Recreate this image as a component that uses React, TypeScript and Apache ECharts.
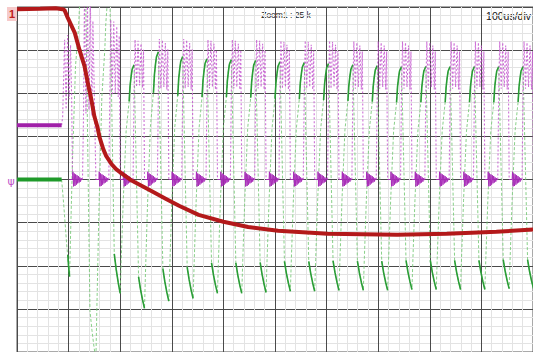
import React, { useEffect, useRef } from "react";
import * as echarts from "echarts";

// Horizontal axis: time in µs (100 µs/div, 10 divisions). Vertical: screen divisions (8).
const xMin = 0;
const xMax = 1000;
const xStep = 100;
const yMin = -4;
const yMax = 4;
const yStep = 1;

const labelZoom = "Zoom1 : 25 k";
const labelTimebase = "100us/div";

// Channel 1 (red)
const redTime = [0, 45, 75, 88, 92, 98, 112, 121, 131, 137, 144, 150, 156, 160, 167, 173, 183, 192, 204, 223, 256, 289, 314, 352, 400, 448, 506, 602, 737, 833, 929, 1000];
const redVal = [3.95, 3.96, 3.97, 3.95, 3.93, 3.76, 3.4, 3.01, 2.62, 2.25, 1.86, 1.46, 1.21, 0.98, 0.71, 0.54, 0.36, 0.24, 0.13, -0.03, -0.24, -0.45, -0.61, -0.82, -0.98, -1.1, -1.19, -1.26, -1.28, -1.26, -1.21, -1.16];

// Pre-trigger flat levels
const greenPreTime = [0, 86.5];
const greenPreVal = [0, 0];
const purplePreTime = [0, 86.5];
const purplePreVal = [1.26, 1.26];

// Green drop into the first cycle
const greenLeadTime = [86.5, 90.4, 96.2, 100];
const greenLeadVal = [0, -0.56, -1.49, -2.02];
const greenFirstTipTime = [98.5, 100, 101.9];
const greenFirstTipVal = [-1.75, -2.02, -2.25];

// Purple first ringing before the first cycle
const purpleLeadTime = [86.5, 88.5, 92.3, 95.2, 98.1, 101, 103.8, 105.8, 107.7];
const purpleLeadVal = [1.26, 1.46, 3.24, 1.63, 3.35, 1.86, 3.12, 1.97, 0];

// Switching cycles: time of each green cusp, its depth and the following crest
const cuspTime = [101.9, 152.9, 200, 247.1, 294.2, 341.3, 388.5, 435.6, 482.7, 529.8, 576.9, 624, 671.2, 718.3, 765.4, 812.5, 859.6, 906.7, 953.8, 1001];
const cuspVal = [-2.25, -4.18, -2.64, -2.99, -2.82, -2.76, -2.64, -2.64, -2.62, -2.59, -2.59, -2.57, -2.57, -2.57, -2.55, -2.55, -2.55, -2.55, -2.53, -2.53];
const peakVal = [4.62, 4.39, 2.66, 2.96, 2.85, 2.8, 2.78, 2.76, 2.73, 2.71, 2.69, 2.66, 2.64, 2.62, 2.62, 2.62, 2.62, 2.62, 2.62, 2.62];
const crestShown = [0, 0, 1, 1, 1, 1, 1, 1, 1, 1, 1, 1, 1, 1, 1, 1, 1, 1, 1, 1];
const tailShown = [0, 1, 1, 1, 1, 1, 1, 1, 1, 1, 1, 1, 1, 1, 1, 1, 1, 1, 1, 1];
const ringHigh = [4.25, 3.7, 3.24, 3.26, 3.26, 3.24, 3.24, 3.24, 3.22, 3.22, 3.22, 3.2, 3.2, 3.2, 3.2, 3.2, 3.2, 3.2, 3.2, 3.2];
const ringLow = [1.39, 1.86, 2.09, 2.05, 2.05, 2.05, 2.05, 2.05, 2.05, 2.05, 2.05, 2.05, 2.05, 2.05, 2.05, 2.05, 2.05, 2.05, 2.05, 2.05];

// Green shape within one cycle (offsets in µs, level as share of cusp→crest)
const riseDu = [0, 1.9, 5.8, 11.5, 17.3];
const riseF = [0, 0.14, 0.4, 0.71, 0.84];
const crestDu = [17.3, 19.2, 21.2, 23.1, 26.9];
const crestF = [0.84, 0.91, 0.95, 0.98, 1];
const fallBack = [20.2, 11.5];
const fallF = [1, 0.13];
const tailBack = [11.5, 7.7, 3.8, 0];
const tailF = [0.13, 0.078, 0.035, 0];

// Purple shape within one cycle
const burstDu = [0, 5.8, 6.5, 7.7, 9.0, 10.4, 11.7, 13.1, 14.4, 15.8, 17.1, 18.5, 19.8, 21.2, 22.5, 23.8, 25.0];
const burstVal = [0, 0, 0.18, -0.16, 0.14, -0.15, 0.12, -0.12, 0.1, -0.09, 0.08, -0.07, 0.05, -0.05, 0.03, -0.01, 0];
const ringDu = [26.9, 28.8, 31.7, 34.6, 37.5, 40.4, 43.3, 45.2];
const ringF = [0, 1, 0.05, 0.98, 0.08, 0.92, 0.03, 0.8];

type P = (number | string)[];
const zip = (t: number[], v: number[]): P[] => t.map((x, i) => [x, v[i]]);

function buildTraces() {
  const gDash: P[] = zip(greenLeadTime, greenLeadVal);
  const gSolid: P[] = zip(greenFirstTipTime, greenFirstTipVal);
  gSolid.push([102, "-"]);
  const pDash: P[] = zip(purpleLeadTime, purpleLeadVal);
  const pSolid: P[] = [];
  for (let i = 0; i < cuspTime.length - 1; i++) {
    const c = cuspTime[i];
    const d = cuspVal[i];
    const p = peakVal[i];
    const cn = cuspTime[i + 1];
    const dn = cuspVal[i + 1];
    riseDu.forEach((du, k) => gDash.push([c + du, d + riseF[k] * (p - d)]));
    crestDu.forEach((du, k) => {
      const pt = [c + du, d + crestF[k] * (p - d)];
      gDash.push(pt);
      if (crestShown[i]) gSolid.push(pt);
    });
    gSolid.push([c + 27, "-"]);
    fallBack.forEach((b, k) => gDash.push([cn - b, dn + fallF[k] * (p - dn)]));
    tailBack.forEach((b, k) => {
      const pt = [cn - b, dn + tailF[k] * (p - dn)];
      gDash.push(pt);
      if (tailShown[i]) gSolid.push(pt);
    });
    gSolid.push([cn, "-"]);

    burstDu.forEach((du, k) => pSolid.push([c + du, burstVal[k]]));
    pSolid.push([c + 25.5, "-"]);
    pDash.push([c + 25, "-"]);
    pDash.push([c + 25, 0]);
    ringDu.forEach((du, k) =>
      pDash.push([c + du, ringLow[i] + ringF[k] * (ringHigh[i] - ringLow[i])])
    );
    pDash.push([cn, 0]);
  }
  return { gDash, gSolid, pDash, pSolid };
}

export default function App() {
  const ref = useRef<HTMLDivElement>(null);
  useEffect(() => {
    if (!ref.current) return;
    const chart = echarts.init(ref.current, undefined, { renderer: "svg" });
    const { gDash, gSolid, pDash, pSolid } = buildTraces();
    const line = (data: P[], color: string, width: number, type: any = "solid", opacity = 1) => ({
      type: "line",
      data,
      showSymbol: false,
      symbol: "none",
      silent: true,
      connectNulls: false,
      lineStyle: { color, width, type, opacity },
    });
    chart.setOption({
      animation: false,
      backgroundColor: "#ffffff",
      grid: {
        left: 17,
        top: 7,
        width: 520,
        height: 347,
        show: true,
        borderColor: "#555",
        borderWidth: 1,
        backgroundColor: "#ffffff",
      },
      xAxis: {
        type: "value",
        min: xMin,
        max: xMax,
        interval: xStep,
        axisLine: { show: false },
        axisTick: { show: false },
        axisLabel: { show: false },
        splitLine: { show: true, lineStyle: { color: "#4a4a4a", width: 1 } },
        minorTick: { show: false, splitNumber: 5 },
        minorSplitLine: { show: true, lineStyle: { color: "#e3e3e3", width: 1 } },
      },
      yAxis: {
        type: "value",
        min: yMin,
        max: yMax,
        interval: yStep,
        axisLine: { show: false },
        axisTick: { show: false },
        axisLabel: { show: false },
        splitLine: { show: true, lineStyle: { color: "#4a4a4a", width: 1 } },
        minorTick: { show: false, splitNumber: 5 },
        minorSplitLine: { show: true, lineStyle: { color: "#e3e3e3", width: 1 } },
      },
      series: [
        line(gDash, "#74c874", 1, [3, 2], 0.85),
        line(gSolid, "#2a9d36", 1.6),
        line(zip(greenPreTime, greenPreVal), "#1f9a2a", 4),
        line(pDash, "#c457cf", 1.1, [2, 2], 0.85),
        line(pSolid, "#a82cb8", 1),
        line(zip(purplePreTime, purplePreVal), "#a020a8", 4),
        line(zip(redTime, redVal), "#b3191a", 4),
      ],
      graphic: [
        { type: "rect", shape: { x: 7, y: 7, width: 10, height: 14 }, style: { fill: "#f6caca" } },
        {
          type: "text",
          x: 12,
          y: 14,
          style: { text: "1", fill: "#c02020", fontSize: 11, fontWeight: "bold", fontFamily: "Liberation Sans", align: "center", verticalAlign: "middle" },
        },
        {
          type: "text",
          x: 11,
          y: 181,
          style: { text: "ψ", fill: "#c050c8", fontSize: 11, fontFamily: "DejaVu Sans", align: "center", verticalAlign: "middle" },
        },
        {
          type: "text",
          x: 286,
          y: 15,
          style: { text: labelZoom, fill: "#222", fontSize: 8.5, fontFamily: "Liberation Sans", align: "center", verticalAlign: "middle" },
        },
        {
          type: "text",
          x: 531,
          y: 16,
          style: { text: labelTimebase, fill: "#111", fontSize: 10.5, fontFamily: "Liberation Sans", align: "right", verticalAlign: "middle" },
        },
      ],
    });
    return () => chart.dispose();
  }, []);
  return <div ref={ref} style={{ position: "absolute", left: 0, top: 0, width: 533, height: 352 }} />;
}
